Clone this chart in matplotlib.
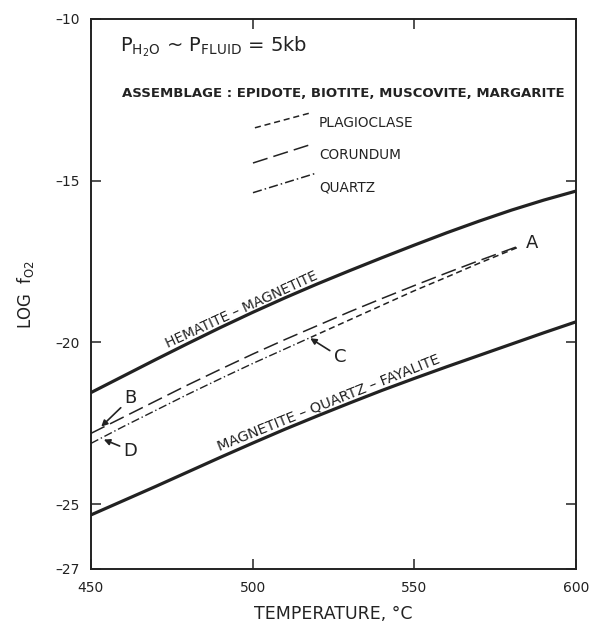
"""Oxygen fugacity vs temperature at P_H2O ~ P_fluid = 5 kb."""

import matplotlib

matplotlib.use("Agg")

import matplotlib.pyplot as plt

# buffer curves (every 10 C)
temp_buffer = [450, 460, 470, 480, 490, 500, 510, 520,
               530, 540, 550, 560, 570, 580, 590, 600]
hm_logfo2 = [-21.55, -21.04, -20.53, -20.03, -19.54, -19.07, -18.62, -18.19,
             -17.78, -17.38, -16.99, -16.61, -16.25, -15.91, -15.60, -15.32]
mqf_logfo2 = [-25.33, -24.89, -24.45, -24.00, -23.55, -23.11, -22.68, -22.27,
              -21.87, -21.48, -21.11, -20.75, -20.40, -20.05, -19.70, -19.36]

# assemblage curves
corundum_t = [450, 460, 470, 480, 490, 500, 510, 520, 530, 540, 550, 560, 570, 582]
corundum_f = [-22.81, -22.31, -21.81, -21.31, -20.83, -20.36, -19.91, -19.48,
              -19.05, -18.64, -18.24, -17.85, -17.47, -17.03]
quartz_t = [450, 460, 470, 480, 490, 500, 510, 518]
quartz_f = [-23.12, -22.60, -22.10, -21.60, -21.12, -20.65, -20.20, -19.84]
plag_t = [518, 530, 540, 550, 560, 570, 582]
plag_f = [-19.84, -19.30, -18.85, -18.40, -17.98, -17.55, -17.06]

x_ticks = [450, 500, 550, 600]
y_ticks = [-10, -15, -20, -25, -27]

INK = "#222222"
plt.rcParams["font.family"] = ["DejaVu Sans"]

fig = plt.figure(figsize=(5.94, 6.29), dpi=100)
ax = fig.add_axes([0.153, 0.0954, 0.817, 0.8746])
ax.set_xlim(450, 600)
ax.set_ylim(-27, -10)

ax.plot(temp_buffer, hm_logfo2, color=INK, lw=2.3, solid_capstyle="butt")
ax.plot(temp_buffer, mqf_logfo2, color=INK, lw=2.3, solid_capstyle="butt")
ax.plot(corundum_t, corundum_f, color=INK, lw=1.1, dashes=(10, 4))
ax.plot(quartz_t, quartz_f, color=INK, lw=1.0, dashes=(6, 2, 1, 2))
ax.plot(plag_t, plag_f, color=INK, lw=1.1, dashes=(4, 2.5))

ax.text(496.5, -18.98, "HEMATITE \u2013 MAGNETITE", rotation=24.7, ha="center",
        va="center", fontsize=10, color=INK, rotation_mode="anchor")
ax.text(523.6, -21.86, "MAGNETITE \u2013 QUARTZ \u2013 FAYALITE", rotation=21.8,
        ha="center", va="center", fontsize=10.4, color=INK,
        rotation_mode="anchor")

# point labels
arrow = dict(arrowstyle="-|>", color=INK, lw=1.2, mutation_scale=9,
             shrinkA=1, shrinkB=0)
ax.annotate("B", xy=(453.2, -22.6), xytext=(462.3, -21.72), fontsize=13,
            color=INK, ha="center", va="center", arrowprops=arrow)
ax.annotate("D", xy=(454, -23.0), xytext=(462.3, -23.34), fontsize=13,
            color=INK, ha="center", va="center", arrowprops=arrow)
ax.annotate("C", xy=(517.8, -19.87), xytext=(527, -20.45), fontsize=13,
            color=INK, ha="center", va="center", arrowprops=arrow)
ax.text(584.3, -16.93, "A", fontsize=13, color=INK, ha="left", va="center")

# header text and legend
ax.text(0.06, 0.949,
        r"P$_{\mathrm{H_2O}}$ ~ P$_{\mathrm{FLUID}}$ = 5kb",
        transform=ax.transAxes, fontsize=14, color=INK, va="center")
ax.text(0.064, 0.865, "ASSEMBLAGE : EPIDOTE, BIOTITE, MUSCOVITE, MARGARITE",
        transform=ax.transAxes, fontsize=9.5, color=INK, va="center",
        fontweight="bold")

legend_rows = [
    ("PLAGIOCLASE", (4, 2.5), (0.338, 0.802), (0.452, 0.829), 0.811),
    ("CORUNDUM", (10, 4), (0.334, 0.738), (0.458, 0.773), 0.753),
    ("QUARTZ", (6, 2, 1, 2), (0.334, 0.684), (0.466, 0.720), 0.693),
]
for label, dash, start, end, label_y in legend_rows:
    ax.plot([start[0], end[0]], [start[1], end[1]], transform=ax.transAxes,
            color=INK, lw=1.1, dashes=dash)
    ax.text(0.47, label_y, label, transform=ax.transAxes, fontsize=9.8,
            color=INK, va="center")

ax.set_xticks(x_ticks)
ax.set_yticks(y_ticks)
ax.set_yticklabels([f"\u2013{abs(v)}" for v in y_ticks])
ax.tick_params(direction="in", length=7, width=1.1, top=True, right=True,
               labelsize=10, colors=INK, pad=8)
ax.tick_params(axis="x", pad=9)
for spine in ax.spines.values():
    spine.set_linewidth(1.4)
    spine.set_color(INK)

ax.set_xlabel("TEMPERATURE, \u00b0C", fontsize=12.5, color=INK, labelpad=7)
ax.set_ylabel(r"LOG  f$_{\mathrm{O2}}$", fontsize=12, color=INK, labelpad=14)

fig.savefig("out.png", dpi=100, facecolor="white")
